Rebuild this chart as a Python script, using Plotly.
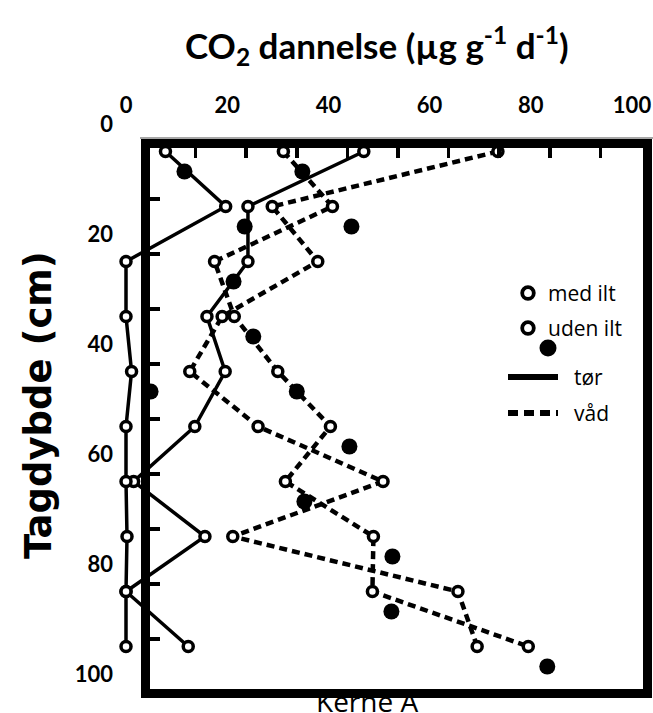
import plotly.graph_objects as go

W, H = 653, 713

def fx(p):
    return p / W

def fy(p):
    return 1 - p / H

# ---------------- data ----------------
depth = [5, 15, 25, 35, 45, 55, 65, 75, 85, 95]
tor_med_ilt = [47.0, 24.1, 24.1, 16.0, 19.6, 13.6, 1.5, 15.6, 0.0, 12.3]
tor_uden_ilt = [7.8, 19.7, 0.0, 0.0, 1.1, 0.0, 0.0, 0.2, 0.0, 0.0]
vad_med_ilt = [73.5, 28.9, 37.9, 19.0, 12.6, 26.1, 50.8, 21.1, 65.6, 69.4]
vad_uden_ilt = [31.1, 40.8, 17.5, 21.4, 30.0, 40.4, 31.5, 48.9, 48.7, 79.5]

x_ticks = [0, 20, 40, 60, 80, 100]
y_ticks = [0, 20, 40, 60, 80, 100]
frame_ticks = [10, 20, 30, 40, 50, 60, 70, 80, 90]

# ---------------- geometry (pixels) ----------------
XS, X0 = 5.06, 126      # open layer: px = X0 + XS * value
YS, Y0 = 5.5, 124       # open layer: px = Y0 + YS * depth
FX0, FY0 = 145, 144     # frame layer origin
FL, FR, FT, FB = 150, 643, 148, 689  # inner edges of frame

fig = go.Figure()

DASH = "8px,5px"


def open_trace(xv, dashed, name):
    return go.Scatter(
        x=xv, y=depth, mode="lines+markers", name=name,
        xaxis="x", yaxis="y", cliponaxis=False, showlegend=False,
        line=dict(color="black", width=4.5 if dashed else 3.5,
                  dash=DASH if dashed else "solid"),
        marker=dict(symbol="circle", size=10, color="white",
                    line=dict(color="black", width=3.5)),
    )


fig.add_trace(open_trace(vad_med_ilt, True, "våd med ilt"))
fig.add_trace(open_trace(vad_uden_ilt, True, "våd uden ilt"))
fig.add_trace(open_trace(tor_med_ilt, False, "tør med ilt"))
fig.add_trace(open_trace(tor_uden_ilt, False, "tør uden ilt"))

for xv, name in [(tor_uden_ilt, "tør uden ilt (fyldt)"), (vad_uden_ilt, "våd uden ilt (fyldt)")]:
    fig.add_trace(go.Scatter(
        x=xv, y=depth, mode="markers", name=name, xaxis="x2", yaxis="y2",
        cliponaxis=False, showlegend=False,
        marker=dict(symbol="circle", size=16, color="black", line=dict(width=0)),
    ))

bold_tick = dict(family="Lato", size=22, color="black", weight="bold")

fig.update_layout(
    width=W, height=H,
    margin=dict(l=0, r=0, t=0, b=0),
    paper_bgcolor="white", plot_bgcolor="rgba(0,0,0,0)",
    showlegend=False,
    xaxis=dict(
        domain=[fx(40), 1.0], range=[(40 - X0) / XS, (W - X0) / XS],
        anchor="free", position=fy(117), side="top",
        tickmode="array", tickvals=x_ticks, ticks="", showline=False,
        showgrid=False, zeroline=False, tickfont=bold_tick,
    ),
    yaxis=dict(
        domain=[0.0, fy(90)], range=[(H - Y0) / YS, (90 - Y0) / YS],
        anchor="free", position=fx(113), side="left",
        tickmode="array", tickvals=y_ticks, ticks="", showline=False,
        showgrid=False, zeroline=False, tickfont=bold_tick,
    ),
    xaxis2=dict(
        domain=[fx(FL), fx(FR)], range=[(FL - FX0) / XS, (FR - FX0) / XS],
        anchor="y2", side="top", showline=True, linecolor="black", linewidth=9,
        mirror=True, ticks="inside", ticklen=10, tickwidth=3.5, tickcolor="black",
        tickmode="array", tickvals=frame_ticks, showticklabels=False,
        showgrid=False, zeroline=False,
    ),
    yaxis2=dict(
        domain=[fy(FB), fy(FT)], range=[(FB - FY0) / YS, (FT - FY0) / YS],
        anchor="x2", side="left", showline=True, linecolor="black", linewidth=9,
        mirror=True, ticks="inside", ticklen=10, tickwidth=3.5, tickcolor="black",
        tickmode="array", tickvals=frame_ticks, showticklabels=False,
        showgrid=False, zeroline=False,
    ),
)

shapes = []
# thin grey line above the frame
shapes.append(dict(type="line", xref="paper", yref="paper", x0=fx(140), x1=1.0,
                   y0=fy(138), y1=fy(138), line=dict(color="#8a8a8a", width=1.5)))


def circ(cx, cy, r, fill, lw):
    return dict(type="circle", xref="paper", yref="paper",
                x0=fx(cx - r), x1=fx(cx + r), y0=fy(cy + r), y1=fy(cy - r),
                fillcolor=fill, line=dict(color="black", width=lw))

# manual legend
shapes.append(circ(528, 293, 5.8, "white", 3.8))
shapes.append(circ(528, 328, 5.8, "white", 3.8))
shapes.append(circ(548, 348, 8.5, "black", 0))
shapes.append(dict(type="line", xref="paper", yref="paper", x0=fx(508), x1=fx(558),
                   y0=fy(377), y1=fy(377), line=dict(color="black", width=6)))
shapes.append(dict(type="line", xref="paper", yref="paper", x0=fx(508), x1=fx(558),
                   y0=fy(413), y1=fy(413), line=dict(color="black", width=6, dash="10px,6px")))
fig.update_layout(shapes=shapes)

leg_font = dict(family="Open Sans", size=21, color="black")
ann = [
    dict(text="med ilt", x=fx(546), y=fy(293)),
    dict(text="uden ilt", x=fx(546), y=fy(328)),
    dict(text="tør", x=fx(572), y=fy(377)),
    dict(text="våd", x=fx(572), y=fy(413)),
]
annotations = []
for a in ann:
    annotations.append(dict(text=a["text"], x=a["x"], y=a["y"], xref="paper", yref="paper",
                            xanchor="left", yanchor="middle", showarrow=False, font=leg_font))

annotations.append(dict(
    text="CO<sub>2</sub> dannelse (µg g<sup>-1</sup> d<sup>-1</sup>)",
    x=fx(377), y=fy(45), xref="paper", yref="paper", xanchor="center", yanchor="middle",
    showarrow=False, font=dict(family="Lato", size=35, color="black", weight="bold")))
annotations.append(dict(
    text="Tagdybde (cm)", textangle=-90,
    x=fx(38), y=fy(405), xref="paper", yref="paper", xanchor="center", yanchor="middle",
    showarrow=False, font=dict(family="DejaVu Sans", size=37, color="black", weight="bold")))
annotations.append(dict(
    text="Kerne A", x=fx(367), y=fy(701), xref="paper", yref="paper",
    xanchor="center", yanchor="middle", showarrow=False,
    font=dict(family="Open Sans", size=28, color="black")))
fig.update_layout(annotations=annotations)

fig.write_html(
    "out.html",
    config={"displayModeBar": False, "staticPlot": True},
    post_script="document.body.style.margin='0';document.body.style.padding='0';"
                "document.documentElement.style.overflow='hidden';",
)
